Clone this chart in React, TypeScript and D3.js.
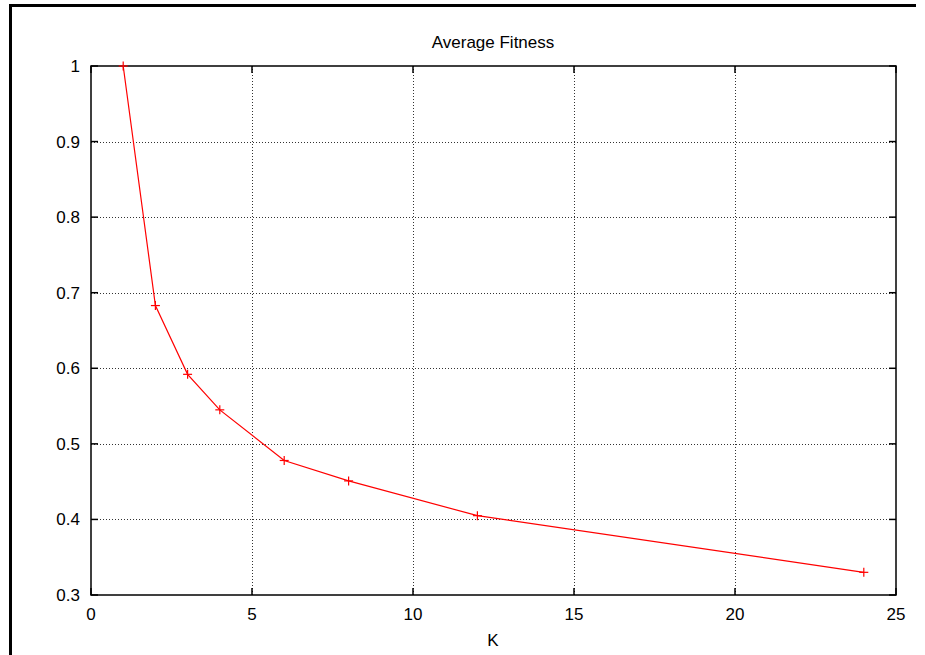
import React from "react";
import * as d3 from "d3";

const kValues = [1, 2, 3, 4, 6, 8, 12, 24];
const fitness = [1.0, 0.683, 0.592, 0.545, 0.478, 0.451, 0.405, 0.330];
const xTicks = [0, 5, 10, 15, 20, 25];
const yTicks = [0.3, 0.4, 0.5, 0.6, 0.7, 0.8, 0.9, 1];
const title = "Average Fitness";
const xLabel = "K";

const W = 925;
const H = 655;
const left = 91;
const right = 896;
const top = 66;
const bottom = 595;
const font = "'Liberation Sans', Arial, sans-serif";

export default function App() {
  const x = d3.scaleLinear().domain([0, 25]).range([left, right]);
  const y = d3.scaleLinear().domain([0.3, 1]).range([bottom, top]);
  const line = d3
    .line<number>()
    .x((_, i) => x(kValues[i]))
    .y((d) => y(d));
  const tick = 7;
  const m = 4.5;
  return (
    <svg
      width={W}
      height={H}
      style={{ position: "absolute", left: 0, top: 0, background: "#fff" }}
    >
      <rect x={0} y={0} width={W} height={H} fill="#fff" />
      {/* outer frame (top & left) */}
      <line x1={10.5} y1={5.5} x2={916} y2={5.5} stroke="#000" strokeWidth={3} />
      <line x1={10.5} y1={4} x2={10.5} y2={H} stroke="#000" strokeWidth={3} />
      {/* grid */}
      {xTicks
        .filter((t) => t > 0 && t < 25)
        .map((t) => (
          <line
            key={"gx" + t}
            x1={Math.round(x(t)) + 0.5}
            x2={Math.round(x(t)) + 0.5}
            y1={top}
            y2={bottom}
            stroke="#333"
            strokeWidth={1}
            strokeDasharray="1,2"
          />
        ))}
      {yTicks
        .filter((t) => t > 0.3 && t < 1)
        .map((t) => (
          <line
            key={"gy" + t}
            x1={left}
            x2={right}
            y1={Math.round(y(t)) + 0.5}
            y2={Math.round(y(t)) + 0.5}
            stroke="#333"
            strokeWidth={1}
            strokeDasharray="1,2"
          />
        ))}
      {/* ticks */}
      {xTicks.map((t) => (
        <g key={"tx" + t}>
          <line x1={x(t)} x2={x(t)} y1={bottom} y2={bottom - tick} stroke="#000" strokeWidth={1.5} />
          <line x1={x(t)} x2={x(t)} y1={top} y2={top + tick} stroke="#000" strokeWidth={1.5} />
          <text
            x={x(t)}
            y={620}
            textAnchor="middle"
            fontFamily={font}
            fontSize={17}
            fill="#000"
          >
            {t}
          </text>
        </g>
      ))}
      {yTicks.map((t) => (
        <g key={"ty" + t}>
          <line x1={left} x2={left + tick} y1={y(t)} y2={y(t)} stroke="#000" strokeWidth={1.5} />
          <line x1={right} x2={right - tick} y1={y(t)} y2={y(t)} stroke="#000" strokeWidth={1.5} />
          <text
            x={80}
            y={y(t) + 6}
            textAnchor="end"
            fontFamily={font}
            fontSize={17}
            fill="#000"
          >
            {t}
          </text>
        </g>
      ))}
      {/* border */}
      <rect
        x={left}
        y={top}
        width={right - left}
        height={bottom - top}
        fill="none"
        stroke="#000"
        strokeWidth={1.5}
      />
      {/* series */}
      <path d={line(fitness) || ""} fill="none" stroke="#ff0000" strokeWidth={1.2} />
      {fitness.map((v, i) => (
        <g key={"p" + i} stroke="#ff0000" strokeWidth={1.2}>
          <line x1={x(kValues[i]) - m} x2={x(kValues[i]) + m} y1={y(v)} y2={y(v)} />
          <line x1={x(kValues[i])} x2={x(kValues[i])} y1={y(v) - m} y2={y(v) + m} />
        </g>
      ))}
      <text x={493} y={48} textAnchor="middle" fontFamily={font} fontSize={17} fill="#000">
        {title}
      </text>
      <text x={493} y={646} textAnchor="middle" fontFamily={font} fontSize={17} fill="#000">
        {xLabel}
      </text>
    </svg>
  );
}
